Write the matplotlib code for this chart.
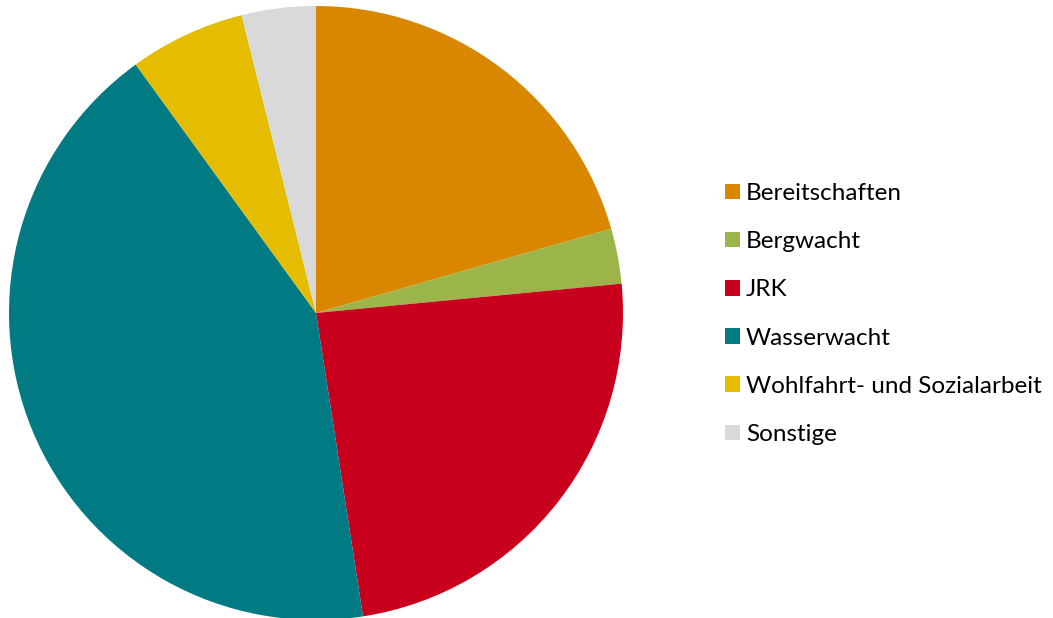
import matplotlib.pyplot as plt

labels = ["Bereitschaften", "Bergwacht", "JRK", "Wasserwacht",
          "Wohlfahrt- und Sozialarbeit", "Sonstige"]
shares = [20.6, 2.9, 24.1, 42.5, 6.1, 3.9]
colors = ["#D98700", "#9BB54A", "#C8001E", "#007A83", "#E5BD00", "#D9D9D9"]

plt.rcParams['font.family'] = ['Lato', 'DejaVu Sans']

fig = plt.figure(figsize=(10.53, 6.18), dpi=100)
# pie centre approx (316, 313) px, radius 307 px
ax = fig.add_axes([9 / 1053, -2 / 618, 614 / 1053, 614 / 618])
wedges, _ = ax.pie(shares, colors=colors, startangle=90, counterclock=False,
                   radius=1, wedgeprops=dict(linewidth=0))
ax.set_xlim(-1, 1)
ax.set_ylim(-1, 1)
ax.set_aspect('equal')
ax.axis('off')

fs = 17.5
fig.legend(wedges, labels, loc='center left',
           bbox_to_anchor=(715 / 1053, 1 - 314 / 618),
           frameon=False, fontsize=fs,
           handlelength=0.62, handleheight=0.62, handletextpad=0.25,
           labelspacing=1.12, borderaxespad=0)

fig.savefig("out.png", dpi=100)
